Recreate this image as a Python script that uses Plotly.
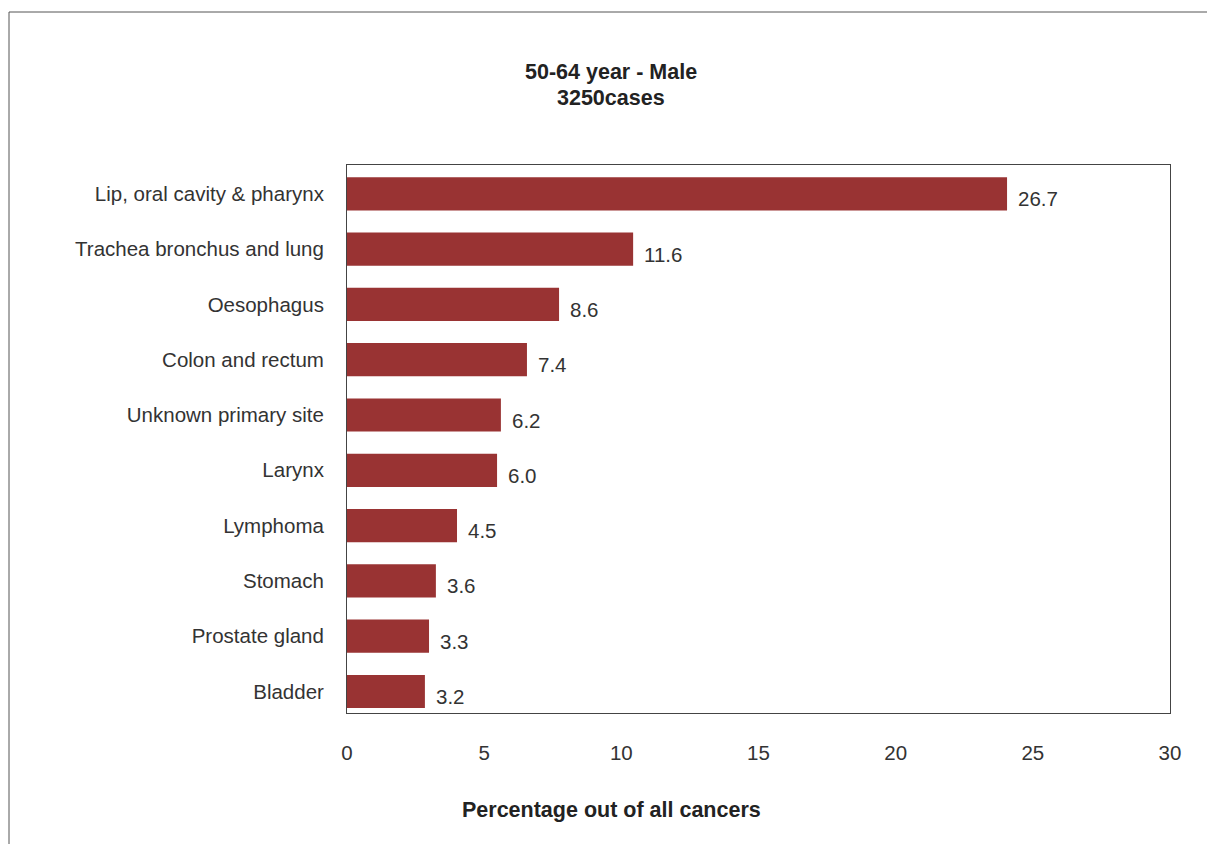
import plotly.graph_objects as go

categories = [
    "Lip, oral cavity & pharynx",
    "Trachea bronchus and lung",
    "Oesophagus",
    "Colon and rectum",
    "Unknown primary site",
    "Larynx",
    "Lymphoma",
    "Stomach",
    "Prostate gland",
    "Bladder",
]
# bar lengths as drawn against the axis
bar_values = [24.06, 10.43, 7.73, 6.56, 5.61, 5.47, 4.01, 3.24, 2.99, 2.84]
# printed value labels
value_labels = ["26.7", "11.6", "8.6", "7.4", "6.2", "6.0", "4.5", "3.6", "3.3", "3.2"]
x_ticks = [0, 5, 10, 15, 20, 25, 30]

FONT = "Liberation Sans, Arial, Helvetica, sans-serif"
TXT = "#333333"
FS = 20.5
FSB = 21.5

L, R, T, B = 347, 37, 165, 131
W, H = 1207, 844
pw = W - L - R
ph = H - T - B

fig = go.Figure()
fig.add_trace(go.Bar(
    x=bar_values, y=categories, orientation="h",
    marker=dict(color="#993333", line=dict(width=0)),
    width=0.6, hoverinfo="skip",
))

annotations = []
for c, v, t in zip(categories, bar_values, value_labels):
    annotations.append(dict(
        x=v, y=c, xref="x", yref="y", text=t, showarrow=False,
        xanchor="left", yanchor="middle", xshift=9, yshift=-5,
        font=dict(family=FONT, size=FS, color=TXT),
    ))
annotations.append(dict(
    x=(611 - L) / pw, y=(H - B - 810) / ph, xref="paper", yref="paper",
    text="<b>Percentage out of all cancers</b>", showarrow=False,
    xanchor="center", yanchor="middle",
    font=dict(family=FONT, size=FSB, color="#222222"),
))
for txt, py in (("<b>50-64 year - Male</b>", 72), ("<b>3250cases</b>", 98)):
    annotations.append(dict(
        x=(611 - L) / pw, y=(H - B - py) / ph, xref="paper", yref="paper",
        text=txt, showarrow=False, xanchor="center", yanchor="middle",
        font=dict(family=FONT, size=FSB, color="#222222"),
    ))

fig.update_layout(
    width=W, height=H,
    margin=dict(l=L, r=R, t=T, b=B, pad=0),
    paper_bgcolor="white", plot_bgcolor="white",
    showlegend=False,
    xaxis=dict(
        range=[0, 30], tickvals=x_ticks, ticktext=[str(v) for v in x_ticks],
        showgrid=False, zeroline=False, ticks="",
        showline=True, linecolor="#444444", linewidth=1, mirror=True,
        tickfont=dict(family=FONT, size=FS, color=TXT),
        ticklabelstandoff=21,
    ),
    yaxis=dict(
        range=[9.389, -0.521], showgrid=False, zeroline=False, ticks="",
        showline=True, linecolor="#444444", linewidth=1, mirror=True,
        tickfont=dict(family=FONT, size=FS, color=TXT),
        ticklabelstandoff=18,
    ),
    annotations=annotations,
    shapes=[dict(
        type="rect", xref="paper", yref="paper",
        x0=(9 - L) / pw, x1=(W + 20 - L) / pw,
        y0=(H - B - (H + 20)) / ph, y1=(H - B - 12) / ph,
        line=dict(color="#555555", width=1), fillcolor="rgba(0,0,0,0)",
        layer="below",
    )],
)

fig.write_html(
    "out.html",
    config={"displayModeBar": False},
    post_script="document.body.style.margin='0';document.body.style.overflow='hidden';",
)
